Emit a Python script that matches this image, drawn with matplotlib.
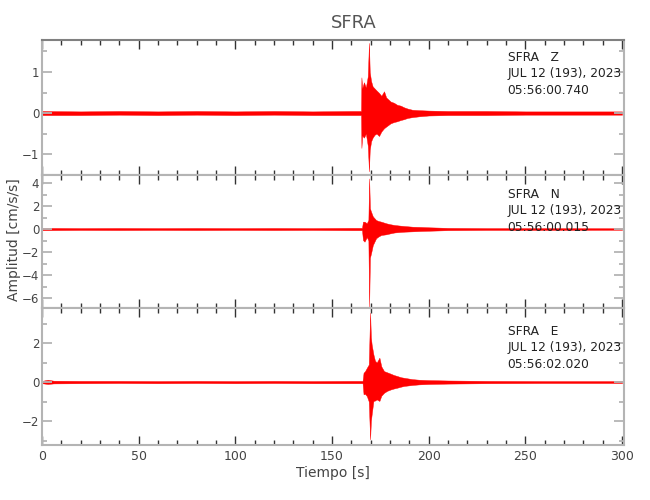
import matplotlib
matplotlib.use("Agg")
import matplotlib.pyplot as plt
from matplotlib.ticker import MultipleLocator

plt.rcParams['font.family'] = ['DejaVu Sans']
plt.rcParams['axes.unicode_minus'] = True

station = "SFRA"
date_txt = "JUL 12 (193), 2023"

# envelope of each trace: time [s], upper, lower
t_z = [0, 20, 40, 60, 80, 100, 120, 140, 160, 165.0, 165.2, 165.6, 166.5, 167.5, 168.5, 169.1,
       169.5, 170.2, 171.0, 172.0, 173.0, 174.3, 175.5, 176.9, 178.0, 180.3, 182.0, 183.7, 185.5,
       187.2, 189.0, 191.5, 195, 200, 210, 230, 250, 270, 300]
up_z = [0.05, 0.04, 0.05, 0.04, 0.05, 0.04, 0.05, 0.04, 0.05, 0.05, 0.87, 0.6, 0.75, 0.62, 0.9, 1.71,
        1.0, 0.78, 0.65, 0.6, 0.55, 0.49, 0.42, 0.53, 0.38, 0.28, 0.25, 0.2, 0.18,
        0.14, 0.11, 0.08, 0.07, 0.06, 0.05, 0.05, 0.04, 0.04, 0.04]
lo_z = [-0.05, -0.05, -0.04, -0.05, -0.04, -0.05, -0.04, -0.05, -0.05, -0.05, -0.85, -0.55, -0.6, -0.5, -0.8, -1.42,
        -0.9, -0.69, -0.6, -0.53, -0.5, -0.56, -0.45, -0.37, -0.33, -0.25, -0.22, -0.2, -0.17,
        -0.15, -0.12, -0.1, -0.08, -0.06, -0.05, -0.05, -0.04, -0.04, -0.04]

t_n = [0, 20, 40, 60, 80, 100, 120, 140, 160, 165.5, 166.0, 166.8, 168.0, 168.8, 169.2, 169.6,
       170.2, 171.1, 172.8, 174.0, 175.4, 178.0, 180.0, 182.3, 185.0, 187.5, 191.8, 196, 200, 210, 230, 260, 300]
up_n = [0.1, 0.08, 0.09, 0.08, 0.09, 0.08, 0.09, 0.08, 0.1, 0.1, 0.64, 0.64, 0.5, 0.8, 4.4, 1.8,
        1.5, 1.1, 0.78, 0.7, 0.64, 0.5, 0.42, 0.35, 0.3, 0.26, 0.2, 0.18, 0.15, 0.1, 0.08, 0.08, 0.07]
lo_n = [-0.1, -0.08, -0.09, -0.08, -0.09, -0.08, -0.09, -0.08, -0.1, -0.1, -0.96, -1.1, -0.7, -1.0, -6.75, -2.5,
        -2.1, -1.4, -0.8, -0.65, -0.52, -0.46, -0.38, -0.3, -0.26, -0.23, -0.2, -0.17, -0.15, -0.1, -0.08, -0.08, -0.07]

t_e = [0, 3, 6, 20, 40, 60, 80, 100, 120, 140, 160, 165.8, 166.3, 167.0, 168.0, 169.0, 169.7,
       170.1, 170.5, 171.4, 172.2, 173.1, 174.5, 175.5, 176.9, 178.5, 180.3, 182.0, 183.7, 185.5,
       187.2, 191.5, 195, 200, 210, 230, 260, 300]
up_e = [0.06, 0.12, 0.07, 0.06, 0.06, 0.05, 0.06, 0.05, 0.06, 0.05, 0.06, 0.06, 0.48, 0.55, 0.73, 0.9, 3.56,
        2.3, 1.93, 1.42, 1.1, 1.0, 1.25, 0.8, 0.56, 0.5, 0.43, 0.36, 0.31, 0.25,
        0.22, 0.15, 0.12, 0.1, 0.08, 0.06, 0.05, 0.05]
lo_e = [-0.06, -0.1, -0.07, -0.06, -0.05, -0.06, -0.05, -0.06, -0.05, -0.06, -0.06, -0.06, -0.63, -0.6, -0.72, -1.0, -2.94,
        -2.0, -1.66, -0.97, -0.95, -0.89, -0.97, -0.7, -0.55, -0.45, -0.38, -0.33, -0.29, -0.24,
        -0.2, -0.15, -0.12, -0.1, -0.08, -0.06, -0.05, -0.05]

comps = ["Z", "N", "E"]
start_times = ["05:56:00.740", "05:56:00.015", "05:56:02.020"]
traces = [(t_z, up_z, lo_z), (t_n, up_n, lo_n), (t_e, up_e, lo_e)]
ylims = [(-1.51, 1.78), (-6.87, 4.7), (-3.23, 3.8)]
ymajor = [1, 2, 2]
yminor = [0.5, 1, 1]
label_top = [0.874, 0.857, 0.832]   # first text line, axes fraction

fig = plt.figure(figsize=(6.5, 5), dpi=100)
bounds = [(0.65, 0.92), (0.384, 0.65), (0.11, 0.384)]
spine_col = '#b4b4b4'
txt_col = '#444444'

axes = []
for i in range(3):
    b0, b1 = bounds[i]
    ax = fig.add_axes([0.0646, b0, 0.8954, b1 - b0])
    t, up, lo = traces[i]
    ax.fill_between(t, lo, up, color='red', lw=0.3, edgecolor='red')
    ax.set_xlim(0, 301)
    ax.set_ylim(*ylims[i])
    ax.xaxis.set_major_locator(MultipleLocator(50))
    ax.xaxis.set_minor_locator(MultipleLocator(10))
    ax.yaxis.set_major_locator(MultipleLocator(ymajor[i]))
    ax.yaxis.set_minor_locator(MultipleLocator(yminor[i]))
    ax.tick_params(axis='x', which='both', direction='in', top=True, bottom=True, color='#333333',
                   labelcolor=txt_col, labelsize=9)
    ax.tick_params(axis='x', which='major', length=6.5, width=1)
    ax.tick_params(axis='x', which='minor', length=3.5, width=1)
    ax.tick_params(axis='y', which='both', direction='in', left=True, right=True, color=spine_col,
                   labelcolor=txt_col, labelsize=8.5, pad=2)
    ax.tick_params(axis='y', which='major', length=7, width=1.3)
    ax.tick_params(axis='y', which='minor', length=3.5, width=1.3)
    for s in ax.spines.values():
        s.set_color(spine_col)
        s.set_linewidth(1.5)
    if i == 0:
        ax.spines['top'].set_color('#808080')
    if i < 2:
        ax.tick_params(axis='x', labelbottom=False)
    h = ax.get_position().height * 500
    lines = [f"{station}   {comps[i]}", date_txt, start_times[i]]
    for k, line in enumerate(lines):
        ax.text(0.8, label_top[i] - k * 16.5 / h, line, transform=ax.transAxes,
                ha='left', va='center', fontsize=8.8, color='#222222')
    axes.append(ax)

axes[2].set_xlabel("Tiempo [s]", fontsize=10, color=txt_col, labelpad=2)
fig.text(0.021, 0.52, "Amplitud [cm/s/s]", rotation=90, ha='center', va='center',
         fontsize=10, color=txt_col)
fig.text(0.545, 0.955, station, ha='center', va='center', fontsize=13, color='#555555')

fig.savefig("out.png", dpi=100)
